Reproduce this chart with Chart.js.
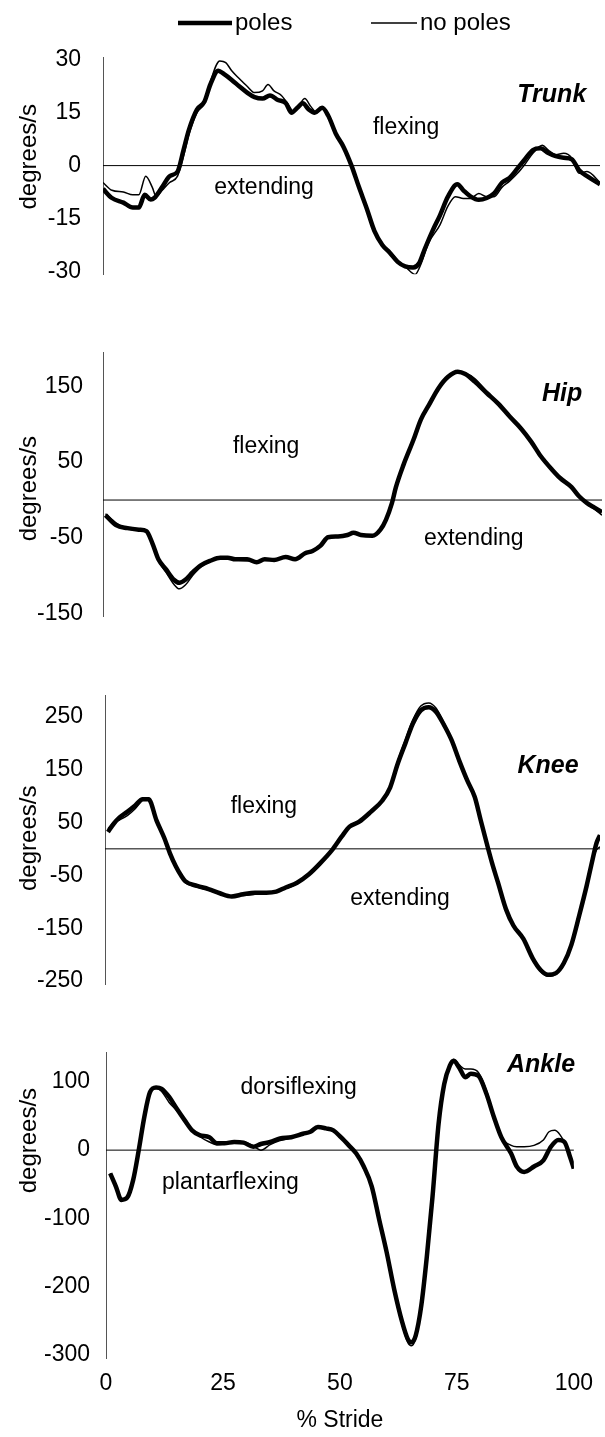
<!DOCTYPE html>
<html>
<head>
<meta charset="utf-8">
<title>Joint angular velocity</title>
<script src="https://cdn.jsdelivr.net/npm/chart.js@4.4.1/dist/chart.umd.min.js"></script>
<style>
  body { margin: 0; background: #fff; }
  #wrap { position: relative; width: 605px; height: 1437px; }
  canvas { position: absolute; left: 0; }
</style>
</head>
<body>
<div id="wrap">
  <canvas id="trunkChart" width="605" height="310" style="top:0px"></canvas>
  <canvas id="hipChart" width="605" height="340" style="top:310px"></canvas>
  <canvas id="kneeChart" width="605" height="370" style="top:650px"></canvas>
  <canvas id="ankleChart" width="605" height="417" style="top:1020px"></canvas>
</div>
<script>
// [% stride, degrees/s]
const trunkPoles = [[0,-6.6],[1.8,-9.2],[4.1,-10.5],[6,-11.9],[7.2,-11.9],[8.4,-8.3],[9.6,-9.6],[10.3,-9.2],[11.9,-6.1],[13.4,-3],[15,-1.7],[16.2,4.4],[17.3,10.2],[18.9,15.9],[20.4,18.1],[21.6,23],[23.2,26.9],[24.3,26],[25.9,24.3],[27.4,22.5],[29,20.7],[30.5,19.4],[32.1,19],[33.6,19.9],[35.2,18.6],[36.8,17.7],[37.9,15],[39.1,16.4],[40.2,17.7],[41.4,15.9],[42.6,15],[44.1,16.4],[45.3,14.2],[46.9,8.9],[48.4,5.3],[50,0],[51.5,-6.1],[53.1,-12.3],[54.6,-18.5],[56.2,-22.5],[57.7,-24.7],[59.3,-27.3],[60.8,-28.6],[62.4,-28.9],[63.6,-27.7],[64.7,-23.8],[66.3,-18.5],[67.8,-14.1],[69.4,-8.8],[71.3,-5.3],[72.5,-7],[74,-8.8],[75.6,-9.7],[77.2,-9.2],[78.7,-7.9],[80.3,-4.8],[81.8,-3.5],[83.4,-0.8],[84.9,1.8],[86.5,4.4],[88,4.9],[89.6,3.6],[91.1,2.7],[92.7,2.2],[94.3,1.8],[95.8,-1.3],[97.4,-3],[100,-5.3]];
const trunkNoPoles = [[0,-4.8],[1.8,-7],[4.1,-7.5],[6,-8.3],[7.2,-8.3],[8.6,-3],[9.9,-6.1],[10.7,-8.8],[11.9,-7],[13.4,-4.8],[15,-3],[16.2,2.7],[17.3,8.9],[18.9,15],[20.4,17.7],[21.6,23.8],[23.5,29.7],[24.7,29.2],[25.9,26.9],[27.4,24.7],[29,22.5],[30.5,20.7],[32.1,21.2],[33.2,23],[34.4,21.2],[35.9,19.9],[37.1,17.7],[38.3,15.5],[39.5,17.2],[40.6,19],[41.8,16.8],[43,15],[44.1,16.4],[45.3,14.2],[46.9,8.9],[48.4,5.3],[50,0],[51.5,-6.1],[53.1,-12.3],[54.6,-18.5],[56.2,-22.5],[57.7,-24.3],[59.3,-26.9],[60.8,-28.6],[62.8,-30.9],[63.9,-28.2],[65.5,-22],[67.8,-16.8],[69.4,-11.5],[70.9,-8.8],[72.5,-9.3],[74,-9.3],[75.6,-7.9],[77.2,-8.8],[78.7,-8.8],[80.3,-6.1],[81.8,-4.4],[83.4,-2.2],[84.9,0.4],[86.5,3.5],[88.4,5.8],[89.6,4.4],[91.1,3.1],[92.7,3.5],[94.3,2.2],[95.8,-2.2],[97.4,-1.7],[100,-4.8]];

const hipPoles = [[0.5,-20],[2.6,-33],[4.9,-37],[7.2,-39],[8.7,-41],[9.9,-57],[11.1,-78],[12.6,-91],[14.2,-105],[15.3,-109],[16.5,-105],[18,-95],[19.6,-86],[21.5,-80],[23.5,-76],[25,-76],[26.5,-78],[28.9,-78],[30.8,-82],[32.4,-78],[34.3,-79],[36.6,-75],[38.5,-78],[40.5,-70],[42,-67],[43.6,-60],[45.1,-49],[47.1,-48],[49,-46],[50.2,-43],[51.7,-46],[54,-47],[55.6,-39],[56.7,-26],[57.9,-4],[58.7,17],[60.2,46],[62.2,79],[63.7,106],[65.3,125],[67.2,147],[69.1,162],[71.1,169],[72.6,166],[74.5,156],[76.9,141],[79.2,127],[81.5,110],[83.8,94],[85.8,77],[87.7,58],[90,40],[91.6,29],[93.9,17],[95.4,5],[97,-4],[98.5,-10],[100,-16]];
const hipNoPoles = [[0.5,-18],[2.6,-30],[4.9,-38],[7.2,-40],[8.7,-42],[9.9,-58],[11.1,-80],[12.6,-95],[14.2,-111],[15.3,-117],[16.5,-112],[18,-99],[19.6,-88],[21.5,-81],[23.5,-77],[25,-77],[26.5,-79],[28.9,-80],[30.8,-81],[32.4,-79],[34.3,-79],[36.6,-76],[38.5,-78],[40.5,-71],[42,-68],[43.6,-60],[45.1,-50],[47.1,-48],[49,-46],[50.2,-44],[51.7,-46],[54,-47],[55.6,-40],[56.7,-27],[57.9,-5],[58.7,15],[60.2,44],[62.2,78],[63.7,105],[65.3,124],[67.2,146],[69.1,161],[71.1,168],[72.6,167],[74.5,160],[76.9,143],[79.2,128],[81.5,111],[83.8,95],[85.8,78],[87.7,59],[90,41],[91.6,30],[93.9,17],[95.4,6],[97,-5],[98.5,-12],[100,-20]];

const kneePoles = [[0.6,32],[1.8,48],[3,60],[4.5,70],[6.1,82],[7.6,94],[8.8,94],[10.4,54],[12,20],[13.1,-8],[14.3,-33],[15.4,-51],[16.2,-61],[18.6,-70],[20.9,-76],[23.2,-84],[25.6,-90],[27.9,-86],[30.3,-83],[32.6,-83],[34.6,-81],[36.5,-73],[38.8,-64],[41.2,-48],[43.5,-27],[45.9,-2],[47.8,23],[49.4,42],[51.3,51],[53.7,70],[56,91],[57.6,116],[59.1,160],[60.7,200],[62.2,237],[63.8,262],[65.4,268],[66.9,259],[68.5,234],[70,206],[71.6,166],[73.2,129],[74.7,98],[75.9,54],[77.1,11],[78.2,-27],[79.4,-64],[81,-114],[82.5,-145],[84.5,-170],[86.4,-207],[88,-229],[89.5,-238],[91.1,-235],[92.7,-216],[94.2,-182],[95.8,-126],[97.3,-70],[98.5,-20],[99.3,11],[100,26]];
const kneeNoPoles = [[0.6,38],[1.8,50],[3,55],[4.5,63],[6.1,76],[7.6,92],[8.8,95],[10.4,56],[12,22],[13.1,-6],[14.3,-32],[15.4,-54],[16.2,-64],[18.6,-72],[20.9,-78],[23.2,-85],[25.6,-89],[27.9,-88],[30.3,-86],[32.6,-84],[34.6,-80],[36.5,-75],[38.8,-66],[41.2,-50],[43.5,-28],[45.9,-3],[47.8,22],[49.4,41],[51.3,51],[53.7,70],[56,92],[57.6,118],[59.1,165],[60.7,207],[62.2,244],[63.8,270],[65.4,276],[66.9,266],[68.5,238],[70,208],[71.6,168],[73.2,130],[74.7,99],[75.9,55],[77.1,12],[78.2,-26],[79.4,-63],[81,-113],[82.5,-146],[84.5,-172],[86.4,-209],[88,-232],[89.5,-241],[91.1,-237],[92.7,-217],[94.2,-181],[95.8,-124],[97.3,-68],[98.5,-22],[99.3,-2],[100,4]];

const anklePoles = [[0.9,-34],[2.1,-53],[3.3,-73],[4.5,-70],[5.8,-44],[7,0],[8.2,49],[9.4,85],[10.7,92],[11.9,90],[13.5,78],[15.1,61],[16.8,44],[18.4,29],[20,22],[22.1,19],[23.7,10],[25.3,10],[27.4,12],[29.4,11],[31.5,5],[33.1,9],[35.1,12],[37.2,17],[39.6,19],[42.1,24],[43.7,27],[45.3,34],[47,32],[48.6,29],[50.2,19],[51.9,7],[53.5,-5],[55.1,-24],[56.8,-53],[58.4,-102],[60,-150],[61.6,-204],[63.3,-252],[64.5,-277],[65.3,-282],[66.2,-272],[67.4,-228],[68.6,-155],[69.8,-68],[71.1,39],[72.3,97],[73.5,124],[74.3,131],[75.5,121],[76.8,107],[78,112],[79.6,109],[81.3,83],[82.9,49],[84.5,19],[86.6,-5],[87.8,-24],[89.4,-32],[91.5,-24],[93.5,-15],[95.1,5],[96.7,15],[98,12],[99.2,-10],[100,-27]];
const ankleNoPoles = [[0.9,-34],[2.1,-53],[3.3,-73],[4.5,-70],[5.8,-44],[7,0],[8.2,52],[9.4,86],[10.7,92],[11.9,86],[13.5,70],[15.1,58],[16.8,44],[18.4,30],[20,20],[22.1,12],[23.7,8],[25.3,9],[27.4,12],[29.4,12],[31.5,6],[33.1,0],[35.1,8],[37.2,14],[39.6,18],[42.1,23],[43.7,27],[45.3,33],[47,32],[48.6,29],[50.2,19],[51.9,7],[53.5,-5],[55.1,-24],[56.8,-53],[58.4,-102],[60,-152],[61.6,-206],[63.3,-256],[64.5,-282],[65.3,-287],[66.2,-276],[67.4,-232],[68.6,-160],[69.8,-75],[71.1,30],[72.3,92],[73.5,125],[74.3,133],[75.5,125],[76.8,119],[78,119],[79.6,114],[81.3,88],[82.9,52],[84.5,19],[86.6,7],[87.8,5],[89.4,5],[91.5,7],[93.5,15],[94.7,27],[95.9,29],[97.1,22],[98.3,7],[99.1,-10],[100,-27]];

// tick labels
const trunkTicks = [-30, -15, 0, 15, 30];
const hipTicks = [-150, -50, 50, 150];
const kneeTicks = [-250, -150, -50, 50, 150, 250];
const ankleTicks = [-300, -200, -100, 0, 100];
const strideTicks = [0, 25, 50, 75, 100];

const seriesNames = ['poles', 'no poles'];

const FONT = "'Liberation Sans', Arial, Helvetica, sans-serif";
Chart.defaults.font.family = FONT;
Chart.defaults.color = '#000';

const toXY = arr => arr.map(p => ({ x: p[0], y: p[1] }));

// zero line, axis title, in-plot words and the legend
const panelText = {
  id: 'panelText',
  beforeDatasetsDraw(chart, args, opts) {
    const { ctx, chartArea, scales } = chart;
    const y0 = scales.y.getPixelForValue(0);
    ctx.save();
    ctx.strokeStyle = '#000';
    ctx.lineWidth = 1;
    ctx.beginPath();
    ctx.moveTo(chartArea.left, y0);
    ctx.lineTo(chartArea.right, y0);
    ctx.stroke();
    ctx.restore();
  },
  afterDraw(chart, args, opts) {
    const { ctx, scales } = chart;
    ctx.save();
    ctx.fillStyle = '#000';
    ctx.textAlign = 'center';
    ctx.textBaseline = 'middle';

    // rotated y title
    ctx.save();
    ctx.translate(29, scales.y.getPixelForValue(opts.titleAt));
    ctx.rotate(-Math.PI / 2);
    ctx.font = '24px ' + FONT;
    ctx.fillText('degrees/s', 0, 0);
    ctx.restore();

    (opts.notes || []).forEach(n => {
      ctx.font = (n.bold ? 'italic bold 25px ' : '23px ') + FONT;
      ctx.fillText(n.text, scales.x.getPixelForValue(n.x), scales.y.getPixelForValue(n.y));
    });

    if (opts.legend) {
      ctx.font = '24px ' + FONT;
      ctx.textAlign = 'left';
      opts.legend.forEach((item, i) => {
        const ds = chart.data.datasets[i];
        ctx.strokeStyle = ds.borderColor;
        ctx.lineWidth = ds.borderWidth;
        ctx.beginPath();
        ctx.moveTo(item.x, item.y);
        ctx.lineTo(item.x + item.len, item.y);
        ctx.stroke();
        ctx.fillText(ds.label, item.x + item.len + 3, item.y);
      });
    }
    ctx.restore();
  }
};

const makePanel = (id, cfg) => {
  const scales = {
    x: { type: 'linear', min: 0, max: 100, display: false },
    y: {
      min: cfg.yMin,
      max: cfg.yMax,
      afterFit: s => { s.width = cfg.left; },
      afterBuildTicks: s => { s.ticks = cfg.ticks.map(v => ({ value: v })); },
      ticks: { font: { size: 23 }, color: '#000', padding: cfg.tickPad },
      grid: { display: false, drawTicks: false },
      border: { display: true, color: '#555', width: 1 }
    }
  };
  if (cfg.showX) {
    scales.x = {
      type: 'linear', min: 0, max: 100,
      afterBuildTicks: s => { s.ticks = strideTicks.map(v => ({ value: v })); },
      afterFit: s => { s.height = cfg.xHeight; },
      ticks: { font: { size: 23 }, color: '#000', padding: 12, maxRotation: 0 },
      grid: { display: false, drawTicks: false },
      border: { display: false },
      title: { display: true, text: '% Stride', font: { size: 23 }, color: '#000', padding: { top: 0, bottom: 3 } }
    };
  }

  return new Chart(document.getElementById(id), {
    type: 'line',
    data: {
      datasets: [
        { label: seriesNames[0], data: toXY(cfg.poles), borderColor: '#000', borderWidth: 4.5 },
        { label: seriesNames[1], data: toXY(cfg.noPoles), borderColor: '#000', borderWidth: 1.5 }
      ]
    },
    options: {
      responsive: false,
      animation: false,
      devicePixelRatio: 1,
      elements: {
        point: { radius: 0 },
        line: { cubicInterpolationMode: 'monotone' }
      },
      layout: { padding: cfg.padding },
      scales: scales,
      plugins: {
        legend: { display: false },
        tooltip: { enabled: false },
        panelText: { titleAt: cfg.titleAt, notes: cfg.notes, legend: cfg.legend }
      }
    },
    plugins: [panelText]
  });
};

makePanel('trunkChart', {
  poles: trunkPoles, noPoles: trunkNoPoles, ticks: trunkTicks,
  yMin: -30.8, yMax: 30.8, left: 103, tickPad: 22, titleAt: 2.5,
  padding: { top: 57, right: 5, bottom: 18, left: 0 },
  notes: [
    { text: 'Trunk', x: 90.3, y: 20, bold: true },
    { text: 'flexing', x: 61, y: 10.7 },
    { text: 'extending', x: 32.4, y: -6.2 }
  ],
  legend: [{ x: 178, y: 23, len: 54 }, { x: 371, y: 23, len: 46 }]
});

makePanel('hipChart', {
  poles: hipPoles, noPoles: hipNoPoles, ticks: hipTicks,
  yMin: -153, yMax: 195, left: 103, tickPad: 20, titleAt: 15,
  padding: { top: 42, right: 3, bottom: 18, left: 0 },
  notes: [
    { text: 'Hip', x: 92, y: 139, bold: true },
    { text: 'flexing', x: 32.7, y: 70.6 },
    { text: 'extending', x: 74.3, y: -51 }
  ]
});

makePanel('kneeChart', {
  poles: kneePoles, noPoles: kneeNoPoles, ticks: kneeTicks,
  yMin: -256, yMax: 291, left: 105, tickPad: 22, titleAt: 20,
  padding: { top: 45, right: 5, bottom: 32, left: 0 },
  notes: [
    { text: 'Knee', x: 89.5, y: 157, bold: true },
    { text: 'flexing', x: 32.1, y: 80 },
    { text: 'extending', x: 59.6, y: -95 }
  ]
});

makePanel('ankleChart', {
  poles: anklePoles, noPoles: ankleNoPoles, ticks: ankleTicks,
  yMin: -305, yMax: 144, left: 106, tickPad: 16, titleAt: 14,
  padding: { top: 32, right: 26, bottom: 0, left: 0 },
  showX: true, xHeight: 79,
  notes: [
    { text: 'Ankle', x: 93, y: 125, bold: true },
    { text: 'dorsiflexing', x: 41.2, y: 91 },
    { text: 'plantarflexing', x: 26.6, y: -47 }
  ]
});
</script>
</body>
</html>
